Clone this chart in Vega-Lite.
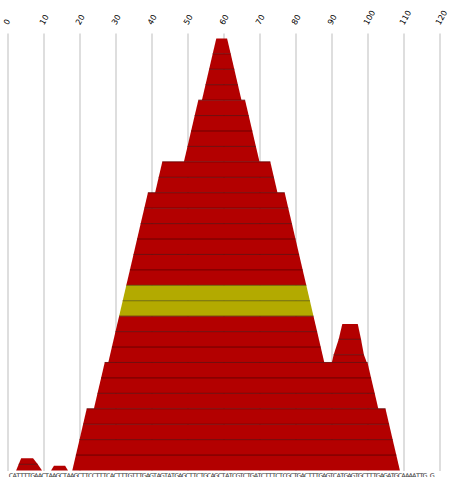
{
  "$schema": "https://vega.github.io/schema/vega-lite/v6.json",
  "width": 432,
  "height": 437.5,
  "autosize": {"type": "none"},
  "padding": {"left": 7.5, "top": 33, "right": 12.5, "bottom": 6.5},
  "background": "white",
  "config": {"view": {"stroke": null}},
  "datasets": {
    "reads": [
      {"read": "L1", "kind": "base", "corner": "bl", "pos": 18, "top": 0, "bottom": 0},
      {"read": "L1", "kind": "base", "corner": "tl", "pos": 19, "top": 1, "bottom": 0},
      {"read": "L1", "kind": "base", "corner": "tr", "pos": 108, "top": 1, "bottom": 0},
      {"read": "L1", "kind": "base", "corner": "br", "pos": 109, "top": 0, "bottom": 0},
      {"read": "L2", "kind": "base", "corner": "bl", "pos": 19, "top": 1, "bottom": 1},
      {"read": "L2", "kind": "base", "corner": "tl", "pos": 20, "top": 2, "bottom": 1},
      {"read": "L2", "kind": "base", "corner": "tr", "pos": 107, "top": 2, "bottom": 1},
      {"read": "L2", "kind": "base", "corner": "br", "pos": 108, "top": 1, "bottom": 1},
      {"read": "L3", "kind": "base", "corner": "bl", "pos": 20, "top": 2, "bottom": 2},
      {"read": "L3", "kind": "base", "corner": "tl", "pos": 21, "top": 3, "bottom": 2},
      {"read": "L3", "kind": "base", "corner": "tr", "pos": 106, "top": 3, "bottom": 2},
      {"read": "L3", "kind": "base", "corner": "br", "pos": 107, "top": 2, "bottom": 2},
      {"read": "L4", "kind": "base", "corner": "bl", "pos": 21, "top": 3, "bottom": 3},
      {"read": "L4", "kind": "base", "corner": "tl", "pos": 22, "top": 4, "bottom": 3},
      {"read": "L4", "kind": "base", "corner": "tr", "pos": 105, "top": 4, "bottom": 3},
      {"read": "L4", "kind": "base", "corner": "br", "pos": 106, "top": 3, "bottom": 3},
      {"read": "L5", "kind": "base", "corner": "bl", "pos": 24, "top": 4, "bottom": 4},
      {"read": "L5", "kind": "base", "corner": "tl", "pos": 25, "top": 5, "bottom": 4},
      {"read": "L5", "kind": "base", "corner": "tr", "pos": 102, "top": 5, "bottom": 4},
      {"read": "L5", "kind": "base", "corner": "br", "pos": 103, "top": 4, "bottom": 4},
      {"read": "L6", "kind": "base", "corner": "bl", "pos": 25, "top": 5, "bottom": 5},
      {"read": "L6", "kind": "base", "corner": "tl", "pos": 26, "top": 6, "bottom": 5},
      {"read": "L6", "kind": "base", "corner": "tr", "pos": 101, "top": 6, "bottom": 5},
      {"read": "L6", "kind": "base", "corner": "br", "pos": 102, "top": 5, "bottom": 5},
      {"read": "L7", "kind": "base", "corner": "bl", "pos": 26, "top": 6, "bottom": 6},
      {"read": "L7", "kind": "base", "corner": "tl", "pos": 27, "top": 7, "bottom": 6},
      {"read": "L7", "kind": "base", "corner": "tr", "pos": 100, "top": 7, "bottom": 6},
      {"read": "L7", "kind": "base", "corner": "br", "pos": 101, "top": 6, "bottom": 6},
      {"read": "L8", "kind": "base", "corner": "bl", "pos": 28, "top": 7, "bottom": 7},
      {"read": "L8", "kind": "base", "corner": "tl", "pos": 29, "top": 8, "bottom": 7},
      {"read": "L8", "kind": "base", "corner": "tr", "pos": 87, "top": 8, "bottom": 7},
      {"read": "L8", "kind": "base", "corner": "br", "pos": 88, "top": 7, "bottom": 7},
      {"read": "L9", "kind": "base", "corner": "bl", "pos": 29, "top": 8, "bottom": 8},
      {"read": "L9", "kind": "base", "corner": "tl", "pos": 30, "top": 9, "bottom": 8},
      {"read": "L9", "kind": "base", "corner": "tr", "pos": 86, "top": 9, "bottom": 8},
      {"read": "L9", "kind": "base", "corner": "br", "pos": 87, "top": 8, "bottom": 8},
      {"read": "L10", "kind": "base", "corner": "bl", "pos": 30, "top": 9, "bottom": 9},
      {"read": "L10", "kind": "base", "corner": "tl", "pos": 31, "top": 10, "bottom": 9},
      {"read": "L10", "kind": "base", "corner": "tr", "pos": 85, "top": 10, "bottom": 9},
      {"read": "L10", "kind": "base", "corner": "br", "pos": 86, "top": 9, "bottom": 9},
      {"read": "L11", "kind": "highlight", "corner": "bl", "pos": 31, "top": 10, "bottom": 10},
      {"read": "L11", "kind": "highlight", "corner": "tl", "pos": 32, "top": 11, "bottom": 10},
      {"read": "L11", "kind": "highlight", "corner": "tr", "pos": 84, "top": 11, "bottom": 10},
      {"read": "L11", "kind": "highlight", "corner": "br", "pos": 85, "top": 10, "bottom": 10},
      {"read": "L12", "kind": "highlight", "corner": "bl", "pos": 32, "top": 11, "bottom": 11},
      {"read": "L12", "kind": "highlight", "corner": "tl", "pos": 33, "top": 12, "bottom": 11},
      {"read": "L12", "kind": "highlight", "corner": "tr", "pos": 83, "top": 12, "bottom": 11},
      {"read": "L12", "kind": "highlight", "corner": "br", "pos": 84, "top": 11, "bottom": 11},
      {"read": "L13", "kind": "base", "corner": "bl", "pos": 33, "top": 12, "bottom": 12},
      {"read": "L13", "kind": "base", "corner": "tl", "pos": 34, "top": 13, "bottom": 12},
      {"read": "L13", "kind": "base", "corner": "tr", "pos": 82, "top": 13, "bottom": 12},
      {"read": "L13", "kind": "base", "corner": "br", "pos": 83, "top": 12, "bottom": 12},
      {"read": "L14", "kind": "base", "corner": "bl", "pos": 34, "top": 13, "bottom": 13},
      {"read": "L14", "kind": "base", "corner": "tl", "pos": 35, "top": 14, "bottom": 13},
      {"read": "L14", "kind": "base", "corner": "tr", "pos": 81, "top": 14, "bottom": 13},
      {"read": "L14", "kind": "base", "corner": "br", "pos": 82, "top": 13, "bottom": 13},
      {"read": "L15", "kind": "base", "corner": "bl", "pos": 35, "top": 14, "bottom": 14},
      {"read": "L15", "kind": "base", "corner": "tl", "pos": 36, "top": 15, "bottom": 14},
      {"read": "L15", "kind": "base", "corner": "tr", "pos": 80, "top": 15, "bottom": 14},
      {"read": "L15", "kind": "base", "corner": "br", "pos": 81, "top": 14, "bottom": 14},
      {"read": "L16", "kind": "base", "corner": "bl", "pos": 36, "top": 15, "bottom": 15},
      {"read": "L16", "kind": "base", "corner": "tl", "pos": 37, "top": 16, "bottom": 15},
      {"read": "L16", "kind": "base", "corner": "tr", "pos": 79, "top": 16, "bottom": 15},
      {"read": "L16", "kind": "base", "corner": "br", "pos": 80, "top": 15, "bottom": 15},
      {"read": "L17", "kind": "base", "corner": "bl", "pos": 37, "top": 16, "bottom": 16},
      {"read": "L17", "kind": "base", "corner": "tl", "pos": 38, "top": 17, "bottom": 16},
      {"read": "L17", "kind": "base", "corner": "tr", "pos": 78, "top": 17, "bottom": 16},
      {"read": "L17", "kind": "base", "corner": "br", "pos": 79, "top": 16, "bottom": 16},
      {"read": "L18", "kind": "base", "corner": "bl", "pos": 38, "top": 17, "bottom": 17},
      {"read": "L18", "kind": "base", "corner": "tl", "pos": 39, "top": 18, "bottom": 17},
      {"read": "L18", "kind": "base", "corner": "tr", "pos": 77, "top": 18, "bottom": 17},
      {"read": "L18", "kind": "base", "corner": "br", "pos": 78, "top": 17, "bottom": 17},
      {"read": "L19", "kind": "base", "corner": "bl", "pos": 41, "top": 18, "bottom": 18},
      {"read": "L19", "kind": "base", "corner": "tl", "pos": 42, "top": 19, "bottom": 18},
      {"read": "L19", "kind": "base", "corner": "tr", "pos": 74, "top": 19, "bottom": 18},
      {"read": "L19", "kind": "base", "corner": "br", "pos": 75, "top": 18, "bottom": 18},
      {"read": "L20", "kind": "base", "corner": "bl", "pos": 42, "top": 19, "bottom": 19},
      {"read": "L20", "kind": "base", "corner": "tl", "pos": 43, "top": 20, "bottom": 19},
      {"read": "L20", "kind": "base", "corner": "tr", "pos": 73, "top": 20, "bottom": 19},
      {"read": "L20", "kind": "base", "corner": "br", "pos": 74, "top": 19, "bottom": 19},
      {"read": "L21", "kind": "base", "corner": "bl", "pos": 49, "top": 20, "bottom": 20},
      {"read": "L21", "kind": "base", "corner": "tl", "pos": 50, "top": 21, "bottom": 20},
      {"read": "L21", "kind": "base", "corner": "tr", "pos": 69, "top": 21, "bottom": 20},
      {"read": "L21", "kind": "base", "corner": "br", "pos": 70, "top": 20, "bottom": 20},
      {"read": "L22", "kind": "base", "corner": "bl", "pos": 50, "top": 21, "bottom": 21},
      {"read": "L22", "kind": "base", "corner": "tl", "pos": 51, "top": 22, "bottom": 21},
      {"read": "L22", "kind": "base", "corner": "tr", "pos": 68, "top": 22, "bottom": 21},
      {"read": "L22", "kind": "base", "corner": "br", "pos": 69, "top": 21, "bottom": 21},
      {"read": "L23", "kind": "base", "corner": "bl", "pos": 51, "top": 22, "bottom": 22},
      {"read": "L23", "kind": "base", "corner": "tl", "pos": 52, "top": 23, "bottom": 22},
      {"read": "L23", "kind": "base", "corner": "tr", "pos": 67, "top": 23, "bottom": 22},
      {"read": "L23", "kind": "base", "corner": "br", "pos": 68, "top": 22, "bottom": 22},
      {"read": "L24", "kind": "base", "corner": "bl", "pos": 52, "top": 23, "bottom": 23},
      {"read": "L24", "kind": "base", "corner": "tl", "pos": 53, "top": 24, "bottom": 23},
      {"read": "L24", "kind": "base", "corner": "tr", "pos": 66, "top": 24, "bottom": 23},
      {"read": "L24", "kind": "base", "corner": "br", "pos": 67, "top": 23, "bottom": 23},
      {"read": "L25", "kind": "base", "corner": "bl", "pos": 54, "top": 24, "bottom": 24},
      {"read": "L25", "kind": "base", "corner": "tl", "pos": 55, "top": 25, "bottom": 24},
      {"read": "L25", "kind": "base", "corner": "tr", "pos": 64, "top": 25, "bottom": 24},
      {"read": "L25", "kind": "base", "corner": "br", "pos": 65, "top": 24, "bottom": 24},
      {"read": "L26", "kind": "base", "corner": "bl", "pos": 55, "top": 25, "bottom": 25},
      {"read": "L26", "kind": "base", "corner": "tl", "pos": 56, "top": 26, "bottom": 25},
      {"read": "L26", "kind": "base", "corner": "tr", "pos": 63, "top": 26, "bottom": 25},
      {"read": "L26", "kind": "base", "corner": "br", "pos": 64, "top": 25, "bottom": 25},
      {"read": "L27", "kind": "base", "corner": "bl", "pos": 56, "top": 26, "bottom": 26},
      {"read": "L27", "kind": "base", "corner": "tl", "pos": 57, "top": 27, "bottom": 26},
      {"read": "L27", "kind": "base", "corner": "tr", "pos": 62, "top": 27, "bottom": 26},
      {"read": "L27", "kind": "base", "corner": "br", "pos": 63, "top": 26, "bottom": 26},
      {"read": "L28", "kind": "base", "corner": "bl", "pos": 57, "top": 27, "bottom": 27},
      {"read": "L28", "kind": "base", "corner": "tl", "pos": 58, "top": 28, "bottom": 27},
      {"read": "L28", "kind": "base", "corner": "tr", "pos": 61, "top": 28, "bottom": 27},
      {"read": "L28", "kind": "base", "corner": "br", "pos": 62, "top": 27, "bottom": 27},
      {"read": "B1", "kind": "base", "corner": "bl", "pos": 90.1, "top": 7, "bottom": 7},
      {"read": "B1", "kind": "base", "corner": "tl", "pos": 90.6, "top": 7.5, "bottom": 7},
      {"read": "B1", "kind": "base", "corner": "tr", "pos": 99.0, "top": 7.5, "bottom": 7},
      {"read": "B1", "kind": "base", "corner": "br", "pos": 99.8, "top": 7, "bottom": 7},
      {"read": "B2", "kind": "base", "corner": "bl", "pos": 90.6, "top": 7.5, "bottom": 7.5},
      {"read": "B2", "kind": "base", "corner": "tl", "pos": 92.0, "top": 8.5, "bottom": 7.5},
      {"read": "B2", "kind": "base", "corner": "tr", "pos": 98.2, "top": 8.5, "bottom": 7.5},
      {"read": "B2", "kind": "base", "corner": "br", "pos": 99.0, "top": 7.5, "bottom": 7.5},
      {"read": "B3", "kind": "base", "corner": "bl", "pos": 92.0, "top": 8.5, "bottom": 8.5},
      {"read": "B3", "kind": "base", "corner": "tl", "pos": 93.0, "top": 9.5, "bottom": 8.5},
      {"read": "B3", "kind": "base", "corner": "tr", "pos": 97.3, "top": 9.5, "bottom": 8.5},
      {"read": "B3", "kind": "base", "corner": "br", "pos": 98.2, "top": 8.5, "bottom": 8.5},
      {"read": "S1", "kind": "base", "corner": "bl", "pos": 2.4, "top": 0, "bottom": 0},
      {"read": "S1", "kind": "base", "corner": "tl", "pos": 3.1, "top": 0.4, "bottom": 0},
      {"read": "S1", "kind": "base", "corner": "tr", "pos": 8.4, "top": 0.4, "bottom": 0},
      {"read": "S1", "kind": "base", "corner": "br", "pos": 9.6, "top": 0, "bottom": 0},
      {"read": "S2", "kind": "base", "corner": "bl", "pos": 3.1, "top": 0.4, "bottom": 0.4},
      {"read": "S2", "kind": "base", "corner": "tl", "pos": 3.8, "top": 0.8, "bottom": 0.4},
      {"read": "S2", "kind": "base", "corner": "tr", "pos": 7.1, "top": 0.8, "bottom": 0.4},
      {"read": "S2", "kind": "base", "corner": "br", "pos": 8.4, "top": 0.4, "bottom": 0.4},
      {"read": "S3", "kind": "base", "corner": "bl", "pos": 12.1, "top": 0, "bottom": 0},
      {"read": "S3", "kind": "base", "corner": "tl", "pos": 12.9, "top": 0.3, "bottom": 0},
      {"read": "S3", "kind": "base", "corner": "tr", "pos": 16.0, "top": 0.3, "bottom": 0},
      {"read": "S3", "kind": "base", "corner": "br", "pos": 16.8, "top": 0, "bottom": 0}
    ],
    "bases": [
      {"pos": 1, "b": "C"}, {"pos": 2, "b": "A"}, {"pos": 3, "b": "T"}, {"pos": 4, "b": "T"}, {"pos": 5, "b": "T"},
      {"pos": 6, "b": "T"}, {"pos": 7, "b": "G"}, {"pos": 8, "b": "A"}, {"pos": 9, "b": "A"}, {"pos": 10, "b": "C"},
      {"pos": 11, "b": "T"}, {"pos": 12, "b": "A"}, {"pos": 13, "b": "A"}, {"pos": 14, "b": "G"}, {"pos": 15, "b": "C"},
      {"pos": 16, "b": "T"}, {"pos": 17, "b": "A"}, {"pos": 18, "b": "A"}, {"pos": 19, "b": "G"}, {"pos": 20, "b": "C"},
      {"pos": 21, "b": "T"}, {"pos": 22, "b": "T"}, {"pos": 23, "b": "C"}, {"pos": 24, "b": "C"}, {"pos": 25, "b": "T"},
      {"pos": 26, "b": "T"}, {"pos": 27, "b": "T"}, {"pos": 28, "b": "C"}, {"pos": 29, "b": "A"}, {"pos": 30, "b": "C"},
      {"pos": 31, "b": "T"}, {"pos": 32, "b": "T"}, {"pos": 33, "b": "T"}, {"pos": 34, "b": "G"}, {"pos": 35, "b": "T"},
      {"pos": 36, "b": "T"}, {"pos": 37, "b": "T"}, {"pos": 38, "b": "G"}, {"pos": 39, "b": "A"}, {"pos": 40, "b": "G"},
      {"pos": 41, "b": "T"}, {"pos": 42, "b": "A"}, {"pos": 43, "b": "G"}, {"pos": 44, "b": "T"}, {"pos": 45, "b": "A"},
      {"pos": 46, "b": "T"}, {"pos": 47, "b": "G"}, {"pos": 48, "b": "A"}, {"pos": 49, "b": "G"}, {"pos": 50, "b": "C"},
      {"pos": 51, "b": "T"}, {"pos": 52, "b": "T"}, {"pos": 53, "b": "C"}, {"pos": 54, "b": "T"}, {"pos": 55, "b": "G"},
      {"pos": 56, "b": "C"}, {"pos": 57, "b": "A"}, {"pos": 58, "b": "G"}, {"pos": 59, "b": "C"}, {"pos": 60, "b": "T"},
      {"pos": 61, "b": "A"}, {"pos": 62, "b": "T"}, {"pos": 63, "b": "C"}, {"pos": 64, "b": "G"}, {"pos": 65, "b": "T"},
      {"pos": 66, "b": "C"}, {"pos": 67, "b": "T"}, {"pos": 68, "b": "G"}, {"pos": 69, "b": "A"}, {"pos": 70, "b": "T"},
      {"pos": 71, "b": "C"}, {"pos": 72, "b": "T"}, {"pos": 73, "b": "T"}, {"pos": 74, "b": "T"}, {"pos": 75, "b": "C"},
      {"pos": 76, "b": "T"}, {"pos": 77, "b": "C"}, {"pos": 78, "b": "G"}, {"pos": 79, "b": "C"}, {"pos": 80, "b": "T"},
      {"pos": 81, "b": "G"}, {"pos": 82, "b": "A"}, {"pos": 83, "b": "C"}, {"pos": 84, "b": "T"}, {"pos": 85, "b": "T"},
      {"pos": 86, "b": "T"}, {"pos": 87, "b": "G"}, {"pos": 88, "b": "A"}, {"pos": 89, "b": "G"}, {"pos": 90, "b": "T"},
      {"pos": 91, "b": "C"}, {"pos": 92, "b": "A"}, {"pos": 93, "b": "T"}, {"pos": 94, "b": "G"}, {"pos": 95, "b": "A"},
      {"pos": 96, "b": "G"}, {"pos": 97, "b": "T"}, {"pos": 98, "b": "G"}, {"pos": 99, "b": "C"}, {"pos": 100, "b": "T"},
      {"pos": 101, "b": "T"}, {"pos": 102, "b": "T"}, {"pos": 103, "b": "G"}, {"pos": 104, "b": "A"}, {"pos": 105, "b": "G"},
      {"pos": 106, "b": "A"}, {"pos": 107, "b": "T"}, {"pos": 108, "b": "G"}, {"pos": 109, "b": "C"}, {"pos": 110, "b": "A"},
      {"pos": 111, "b": "A"}, {"pos": 112, "b": "A"}, {"pos": 113, "b": "A"}, {"pos": 114, "b": "T"}, {"pos": 115, "b": "T"},
      {"pos": 116, "b": "G"}, {"pos": 118, "b": "G"}
    ]
  },
  "encoding": {
    "x": {
      "field": "pos",
      "type": "quantitative",
      "scale": {"domain": [0, 120], "nice": false, "zero": false},
      "axis": {
        "orient": "top",
        "values": [0, 10, 20, 30, 40, 50, 60, 70, 80, 90, 100, 110, 120],
        "title": null,
        "domain": false,
        "ticks": false,
        "grid": true,
        "gridColor": "#bdbdbd",
        "gridWidth": 1,
        "gridOpacity": 1,
        "labelAngle": -60,
        "labelAlign": "left",
        "labelBaseline": "alphabetic",
        "labelPadding": 8,
        "labelFont": "DejaVu Sans",
        "labelFontSize": 8,
        "labelColor": "#000000",
        "labelFlush": false,
        "labelOverlap": false
      }
    }
  },
  "layer": [
    {
      "data": {"name": "reads"},
      "mark": {"type": "area", "interpolate": "linear"},
      "encoding": {
        "y": {"field": "top", "type": "quantitative", "stack": null, "scale": {"domain": [0, 28.35], "nice": false}, "axis": null},
        "y2": {"field": "bottom"},
        "detail": {"field": "read"},
        "color": {
          "field": "kind",
          "type": "nominal",
          "scale": {"domain": ["base", "highlight"], "range": ["#b30000", "#b3aa00"]},
          "legend": null
        }
      }
    },
    {
      "data": {"name": "reads"},
      "transform": [
        {"filter": "(datum.corner == 'tl' || datum.corner == 'tr') && datum.read != 'L28' && datum.read != 'B3' && datum.read != 'S2' && datum.read != 'S3'"}
      ],
      "mark": {"type": "line", "strokeWidth": 1, "opacity": 0.8},
      "encoding": {
        "y": {"field": "top", "type": "quantitative", "stack": null, "scale": {"domain": [0, 28.35], "nice": false}, "axis": null},
        "detail": {"field": "read"},
        "color": {
          "field": "kind",
          "type": "nominal",
          "scale": {"domain": ["base", "highlight"], "range": ["#5a0000", "#5c5800"]},
          "legend": null
        }
      }
    },
    {
      "data": {"name": "bases"},
      "mark": {"type": "text", "baseline": "top", "align": "center", "dy": 2.5, "font": "DejaVu Sans", "fontSize": 6.5, "color": "#333333"},
      "encoding": {
        "y": {"datum": 0, "type": "quantitative", "scale": {"domain": [0, 28.35], "nice": false}, "axis": null},
        "text": {"field": "b"}
      }
    }
  ],
  "resolve": {"scale": {"color": "independent"}}
}
